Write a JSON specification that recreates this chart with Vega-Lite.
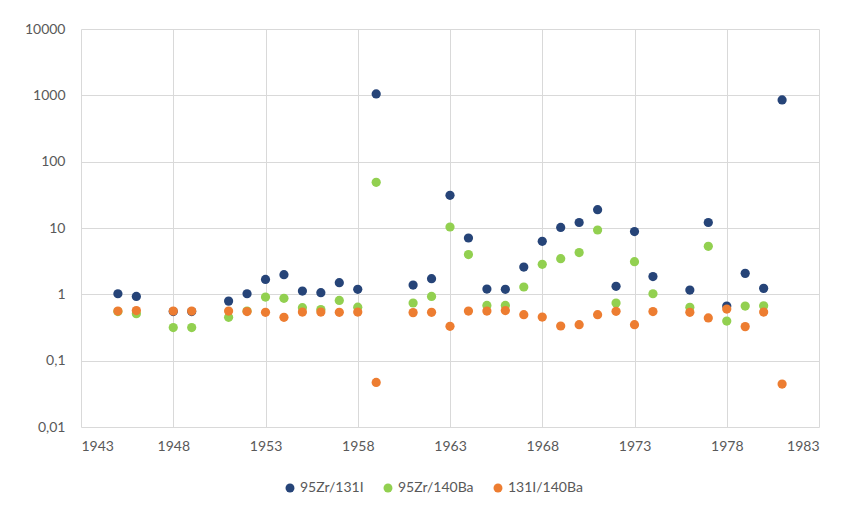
{
  "$schema": "https://vega.github.io/schema/vega-lite/v6.json",
  "width": 738,
  "height": 398,
  "autosize": {"type": "none"},
  "padding": {"left": 81, "top": 29, "right": 27, "bottom": 81},
  "background": "white",
  "config": {
    "font": "Lato",
    "view": {"stroke": null},
    "axis": {"labelColor": "#595959", "labelFontSize": 14, "gridColor": "#d9d9d9", "gridWidth": 1, "domain": false, "ticks": false, "title": null}
  },
  "data": {"values": [
    {"year": 1945, "series": "95Zr/131I", "value": 1.02},
    {"year": 1946, "series": "95Zr/131I", "value": 0.93},
    {"year": 1948, "series": "95Zr/131I", "value": 0.55},
    {"year": 1949, "series": "95Zr/131I", "value": 0.55},
    {"year": 1951, "series": "95Zr/131I", "value": 0.79},
    {"year": 1952, "series": "95Zr/131I", "value": 1.02},
    {"year": 1953, "series": "95Zr/131I", "value": 1.68},
    {"year": 1954, "series": "95Zr/131I", "value": 1.98},
    {"year": 1955, "series": "95Zr/131I", "value": 1.12},
    {"year": 1956, "series": "95Zr/131I", "value": 1.06},
    {"year": 1957, "series": "95Zr/131I", "value": 1.5},
    {"year": 1958, "series": "95Zr/131I", "value": 1.19},
    {"year": 1959, "series": "95Zr/131I", "value": 1050},
    {"year": 1961, "series": "95Zr/131I", "value": 1.38},
    {"year": 1962, "series": "95Zr/131I", "value": 1.72},
    {"year": 1963, "series": "95Zr/131I", "value": 31.1},
    {"year": 1964, "series": "95Zr/131I", "value": 7.07},
    {"year": 1965, "series": "95Zr/131I", "value": 1.2},
    {"year": 1966, "series": "95Zr/131I", "value": 1.19},
    {"year": 1967, "series": "95Zr/131I", "value": 2.58},
    {"year": 1968, "series": "95Zr/131I", "value": 6.3},
    {"year": 1969, "series": "95Zr/131I", "value": 10.2},
    {"year": 1970, "series": "95Zr/131I", "value": 12.1},
    {"year": 1971, "series": "95Zr/131I", "value": 18.9},
    {"year": 1972, "series": "95Zr/131I", "value": 1.32},
    {"year": 1973, "series": "95Zr/131I", "value": 8.83},
    {"year": 1974, "series": "95Zr/131I", "value": 1.85},
    {"year": 1976, "series": "95Zr/131I", "value": 1.16},
    {"year": 1977, "series": "95Zr/131I", "value": 12.1},
    {"year": 1978, "series": "95Zr/131I", "value": 0.666},
    {"year": 1979, "series": "95Zr/131I", "value": 2.07},
    {"year": 1980, "series": "95Zr/131I", "value": 1.23},
    {"year": 1981, "series": "95Zr/131I", "value": 852},
    {"year": 1945, "series": "95Zr/140Ba", "value": 0.55},
    {"year": 1946, "series": "95Zr/140Ba", "value": 0.51},
    {"year": 1948, "series": "95Zr/140Ba", "value": 0.315},
    {"year": 1949, "series": "95Zr/140Ba", "value": 0.315},
    {"year": 1951, "series": "95Zr/140Ba", "value": 0.45},
    {"year": 1952, "series": "95Zr/140Ba", "value": 0.56},
    {"year": 1953, "series": "95Zr/140Ba", "value": 0.91},
    {"year": 1954, "series": "95Zr/140Ba", "value": 0.87},
    {"year": 1955, "series": "95Zr/140Ba", "value": 0.63},
    {"year": 1956, "series": "95Zr/140Ba", "value": 0.59},
    {"year": 1957, "series": "95Zr/140Ba", "value": 0.81},
    {"year": 1958, "series": "95Zr/140Ba", "value": 0.64},
    {"year": 1959, "series": "95Zr/140Ba", "value": 48.9},
    {"year": 1961, "series": "95Zr/140Ba", "value": 0.74},
    {"year": 1962, "series": "95Zr/140Ba", "value": 0.93},
    {"year": 1963, "series": "95Zr/140Ba", "value": 10.35},
    {"year": 1964, "series": "95Zr/140Ba", "value": 3.97},
    {"year": 1965, "series": "95Zr/140Ba", "value": 0.68},
    {"year": 1966, "series": "95Zr/140Ba", "value": 0.68},
    {"year": 1967, "series": "95Zr/140Ba", "value": 1.29},
    {"year": 1968, "series": "95Zr/140Ba", "value": 2.83},
    {"year": 1969, "series": "95Zr/140Ba", "value": 3.45},
    {"year": 1970, "series": "95Zr/140Ba", "value": 4.26},
    {"year": 1971, "series": "95Zr/140Ba", "value": 9.33},
    {"year": 1972, "series": "95Zr/140Ba", "value": 0.74},
    {"year": 1973, "series": "95Zr/140Ba", "value": 3.11},
    {"year": 1974, "series": "95Zr/140Ba", "value": 1.02},
    {"year": 1976, "series": "95Zr/140Ba", "value": 0.636},
    {"year": 1977, "series": "95Zr/140Ba", "value": 5.3},
    {"year": 1978, "series": "95Zr/140Ba", "value": 0.396},
    {"year": 1979, "series": "95Zr/140Ba", "value": 0.666},
    {"year": 1980, "series": "95Zr/140Ba", "value": 0.67},
    {"year": 1945, "series": "131I/140Ba", "value": 0.56},
    {"year": 1946, "series": "131I/140Ba", "value": 0.57},
    {"year": 1948, "series": "131I/140Ba", "value": 0.56},
    {"year": 1949, "series": "131I/140Ba", "value": 0.56},
    {"year": 1951, "series": "131I/140Ba", "value": 0.56},
    {"year": 1952, "series": "131I/140Ba", "value": 0.55},
    {"year": 1953, "series": "131I/140Ba", "value": 0.535},
    {"year": 1954, "series": "131I/140Ba", "value": 0.45},
    {"year": 1955, "series": "131I/140Ba", "value": 0.54},
    {"year": 1956, "series": "131I/140Ba", "value": 0.54},
    {"year": 1957, "series": "131I/140Ba", "value": 0.535},
    {"year": 1958, "series": "131I/140Ba", "value": 0.54},
    {"year": 1959, "series": "131I/140Ba", "value": 0.047},
    {"year": 1961, "series": "131I/140Ba", "value": 0.53},
    {"year": 1962, "series": "131I/140Ba", "value": 0.535},
    {"year": 1963, "series": "131I/140Ba", "value": 0.329},
    {"year": 1964, "series": "131I/140Ba", "value": 0.56},
    {"year": 1965, "series": "131I/140Ba", "value": 0.56},
    {"year": 1966, "series": "131I/140Ba", "value": 0.57},
    {"year": 1967, "series": "131I/140Ba", "value": 0.494},
    {"year": 1968, "series": "131I/140Ba", "value": 0.455},
    {"year": 1969, "series": "131I/140Ba", "value": 0.333},
    {"year": 1970, "series": "131I/140Ba", "value": 0.349},
    {"year": 1971, "series": "131I/140Ba", "value": 0.494},
    {"year": 1972, "series": "131I/140Ba", "value": 0.555},
    {"year": 1973, "series": "131I/140Ba", "value": 0.349},
    {"year": 1974, "series": "131I/140Ba", "value": 0.55},
    {"year": 1976, "series": "131I/140Ba", "value": 0.535},
    {"year": 1977, "series": "131I/140Ba", "value": 0.44},
    {"year": 1978, "series": "131I/140Ba", "value": 0.6},
    {"year": 1979, "series": "131I/140Ba", "value": 0.326},
    {"year": 1980, "series": "131I/140Ba", "value": 0.54},
    {"year": 1981, "series": "131I/140Ba", "value": 0.0444}
  ]},
  "mark": {"type": "circle", "size": 85, "opacity": 1},
  "encoding": {
    "x": {"field": "year", "type": "quantitative",
      "scale": {"domain": [1943, 1983], "nice": false, "zero": false},
      "axis": {"values": [1943, 1948, 1953, 1958, 1963, 1968, 1973, 1978, 1983], "format": "d", "labelPadding": 12}},
    "y": {"field": "value", "type": "quantitative",
      "scale": {"type": "log", "domain": [0.01, 10000], "nice": false},
      "axis": {"values": [0.01, 0.1, 1, 10, 100, 1000, 10000], "labelExpr": "replace(toString(datum.value), '.', ',')", "labelPadding": 16}},
    "color": {"field": "series", "type": "nominal",
      "scale": {"domain": ["95Zr/131I", "95Zr/140Ba", "131I/140Ba"], "range": ["#264478", "#92D050", "#ED7D31"]},
      "legend": {"orient": "none", "legendX": 202, "legendY": 452, "direction": "horizontal", "title": null,
        "symbolType": "circle", "symbolSize": 80, "labelFontSize": 14, "labelColor": "#595959", "columnPadding": 17, "labelOffset": 3}}
  }
}
